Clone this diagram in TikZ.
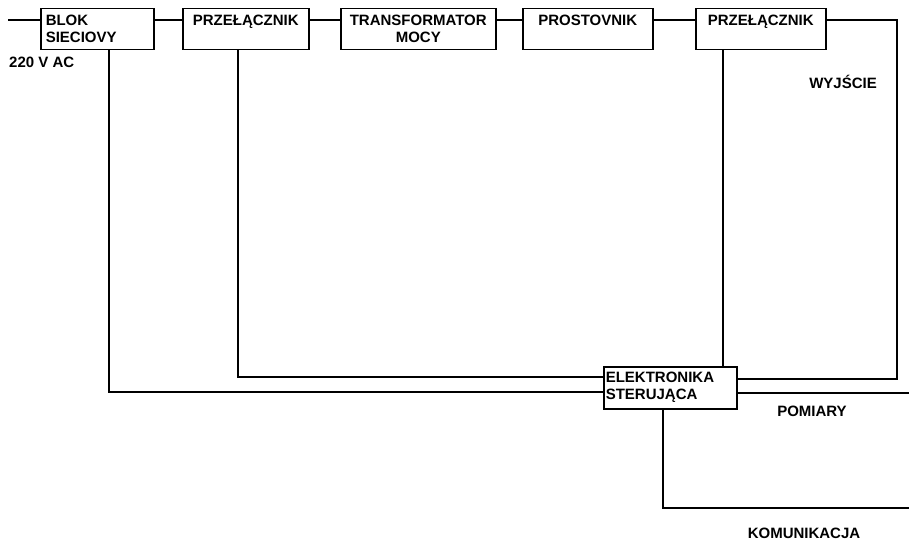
\documentclass[tikz,border=0pt]{standalone}
\usepackage{fontspec}
\setmainfont{Liberation Sans}
\begin{document}
\begin{tikzpicture}[x=1pt,y=-1pt,
  txt/.style={font=\bfseries\fontsize{15}{17}\selectfont, inner sep=0pt},
  blk/.style={draw, line width=1.5pt, anchor=north west, minimum height=41pt,
    inner xsep=5pt, inner ysep=0pt, font=\bfseries\fontsize{15}{17}\selectfont},
  wire/.style={line width=1.6pt, line join=miter}]
\useasboundingbox (0,0) rectangle (909,543);

% blocks
\node[blk, minimum width=113pt, text width=103pt, align=left] (blok) at (40,8) {BLOK\\SIECIOVY};
\node[blk, minimum width=126pt, text width=116pt, align=center] (prza) at (182,8) {PRZEŁĄCZNIK\\\mbox{}};
\node[blk, minimum width=155pt, text width=145pt, align=center] (trans) at (340,8) {TRANSFORMATOR\\MOCY};
\node[blk, minimum width=130pt, text width=120pt, align=center] (prost) at (522,8) {PROSTOVNIK\\\mbox{}};
\node[blk, minimum width=130pt, text width=120pt, align=center] (przb) at (695,8) {PRZEŁĄCZNIK\\\mbox{}};
\node[blk, minimum width=133pt, minimum height=42pt, text width=129pt, inner xsep=2pt, align=left] (elek) at (603,366) {ELEKTRONIKA\\STERUJĄCA};

% free ends
\coordinate (in) at (8,20);
\coordinate (outc) at (897,20);
\coordinate (pom) at (909,393);
\coordinate (kom) at (909,508);

% top chain
\draw[wire] (in) -- (blok.west |- in);
\draw[wire] (blok.east |- in) -- (prza.west |- in);
\draw[wire] (prza.east |- in) -- (trans.west |- in);
\draw[wire] (trans.east |- in) -- (prost.west |- in);
\draw[wire] (prost.east |- in) -- (przb.west |- in);
\draw[wire] (przb.east |- in) -- (outc) -- (897,379) -- (elek.east |- 0,379);

% control lines
\draw[wire] (blok.south -| 109,0) -- (109,392) -- (elek.west |- 0,392);
\draw[wire] (prza.south -| 238,0) -- (238,377) -- (elek.west |- 0,377);
\draw[wire] (przb.south -| 723,0) -- (elek.north -| 723,0);
\draw[wire] (elek.east |- pom) -- (pom);
\draw[wire] (elek.south -| 663,0) -- (663,508) -- (kom);

% labels
\node[txt, anchor=west] (ac) at (9,62) {220 V AC};
\node[txt] (wy) at (843,82) {WYJŚCIE};
\node[txt] (pm) at (812,411) {POMIARY};
\node[txt] (km) at (804,533) {KOMUNIKACJA};
\end{tikzpicture}
\end{document}
